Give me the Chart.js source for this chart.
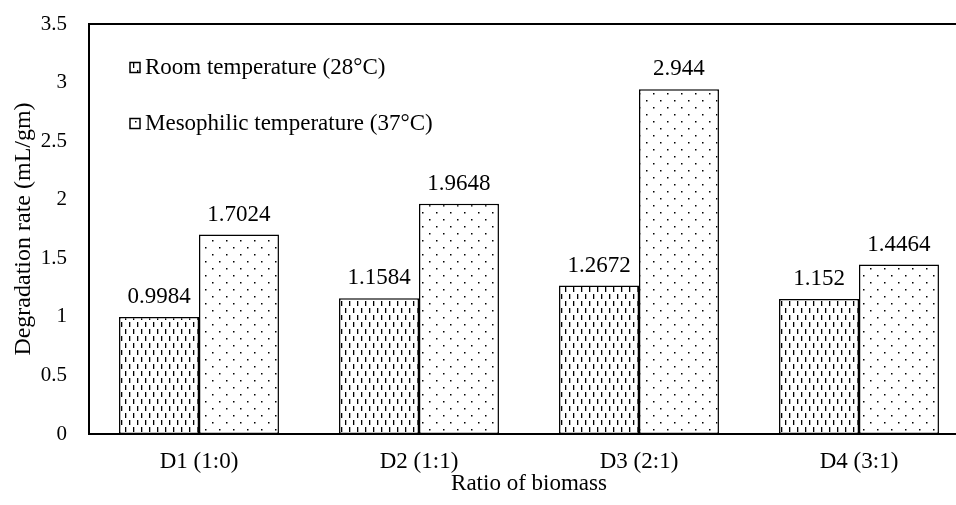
<!DOCTYPE html>
<html>
<head>
<meta charset="utf-8">
<title>Degradation rate by biomass ratio</title>
<script src="https://cdn.jsdelivr.net/npm/chart.js@4.4.0/dist/chart.umd.min.js"></script>
<style>
  html, body { margin: 0; padding: 0; background: #fff; overflow: hidden; }
  #wrap { width: 990px; height: 505px; }
</style>
</head>
<body>
<div id="wrap"><canvas id="chart" width="990" height="505"></canvas></div>
<script>
// data
const categories = ['D1 (1:0)', 'D2 (1:1)', 'D3 (2:1)', 'D4 (3:1)'];
const seriesNames = ['Room temperature (28°C)', 'Mesophilic temperature (37°C)'];
const roomTemp = [0.9984, 1.1584, 1.2672, 1.152];
const mesoTemp = [1.7024, 1.9648, 2.944, 1.4464];
const yTicks = [0, 0.5, 1, 1.5, 2, 2.5, 3, 3.5];

const FONT = '"Liberation Serif", "Times New Roman", serif';

// short vertical dashes, staggered
function dashPattern() {
    const c = document.createElement('canvas');
    c.width = 8; c.height = 14;
    const g = c.getContext('2d');
    g.fillStyle = '#fff';
    g.fillRect(0, 0, 8, 14);
    g.fillStyle = '#000';
    g.fillRect(1, 0, 1.3, 5);
    g.fillRect(5, 7, 1.3, 5);
    return g.createPattern(c, 'repeat');
}

// sparse staggered dots
function dotPattern() {
    const c = document.createElement('canvas');
    c.width = 14; c.height = 14;
    const g = c.getContext('2d');
    g.fillStyle = '#fff';
    g.fillRect(0, 0, 14, 14);
    g.fillStyle = '#000';
    g.fillRect(2, 2, 1.5, 1.5);
    g.fillRect(9, 9, 1.5, 1.5);
    return g.createPattern(c, 'repeat');
}

// box around the plot area
const frame = {
    id: 'frame',
    afterDatasetsDraw(chart) {
        const { left, top, right, bottom } = chart.chartArea;
        const ctx = chart.ctx;
        ctx.save();
        ctx.strokeStyle = '#000';
        ctx.lineWidth = 2;
        ctx.strokeRect(left, top, right - left, bottom - top);
        ctx.restore();
    }
};

// value above each bar
const valueLabels = {
    id: 'valueLabels',
    afterDatasetsDraw(chart) {
        const ctx = chart.ctx;
        ctx.save();
        ctx.font = '23px ' + FONT;
        ctx.fillStyle = '#000';
        ctx.textAlign = 'center';
        ctx.textBaseline = 'alphabetic';
        chart.data.datasets.forEach((ds, i) => {
            chart.getDatasetMeta(i).data.forEach((bar, j) => {
                ctx.fillText(String(ds.data[j]), bar.x, bar.y - 14);
            });
        });
        ctx.restore();
    }
};

// legend stacked inside the plot, top-left
const insideLegend = {
    id: 'insideLegend',
    afterDraw(chart) {
        const ctx = chart.ctx;
        const { left, top } = chart.chartArea;
        ctx.save();
        ctx.font = '23px ' + FONT;
        ctx.textBaseline = 'middle';
        ctx.textAlign = 'left';
        chart.data.datasets.forEach((ds, i) => {
            const cy = top + 43.5 + i * 56;
            const bx = left + 41;
            ctx.fillStyle = ds.backgroundColor;
            ctx.fillRect(bx, cy - 5, 10, 10);
            ctx.strokeStyle = '#000';
            ctx.lineWidth = 1.5;
            ctx.strokeRect(bx, cy - 5, 10, 10);
            ctx.fillStyle = '#000';
            ctx.fillText(ds.label, left + 56, cy);
        });
        ctx.restore();
    }
};

const ctx = document.getElementById('chart');

new Chart(ctx, {
    type: 'bar',
    data: {
        labels: categories,
        datasets: [
            {
                label: seriesNames[0],
                data: roomTemp,
                backgroundColor: dashPattern(),
                borderColor: '#000',
                borderWidth: 1.5,
                borderSkipped: false
            },
            {
                label: seriesNames[1],
                data: mesoTemp,
                backgroundColor: dotPattern(),
                borderColor: '#000',
                borderWidth: 1.5,
                borderSkipped: false
            }
        ]
    },
    options: {
        responsive: false,
        animation: false,
        categoryPercentage: 0.727,
        barPercentage: 1.0,
        layout: { padding: { left: 0, top: 24, right: 21, bottom: 0 } },
        plugins: {
            legend: { display: false },
            tooltip: { enabled: false }
        },
        scales: {
            x: {
                grid: { display: false, drawTicks: false },
                border: { display: false },
                ticks: { color: '#000', font: { family: FONT, size: 23 }, padding: 14 },
                title: {
                    display: true,
                    text: 'Ratio of biomass',
                    color: '#000',
                    font: { family: FONT, size: 23 },
                    padding: { top: 0, bottom: 7 }
                },
                afterFit(scale) {
                    scale.height = 71;
                    scale.paddingLeft = 0;
                    scale.paddingRight = 0;
                }
            },
            y: {
                min: 0,
                max: 3.5,
                afterBuildTicks(scale) {
                    scale.ticks = yTicks.map(v => ({ value: v }));
                },
                grid: { display: false, drawTicks: false },
                border: { display: false },
                ticks: {
                    color: '#000',
                    font: { family: FONT, size: 21 },
                    padding: 22,
                    callback: v => String(v)
                },
                title: {
                    display: true,
                    text: 'Degradation rate (mL/gm)',
                    color: '#000',
                    font: { family: FONT, size: 24 },
                    padding: { top: 9, bottom: 0 }
                },
                afterFit(scale) {
                    scale.width = 89;
                    scale.paddingTop = 0;
                    scale.paddingBottom = 0;
                }
            }
        }
    },
    plugins: [frame, valueLabels, insideLegend]
});
</script>
</body>
</html>
